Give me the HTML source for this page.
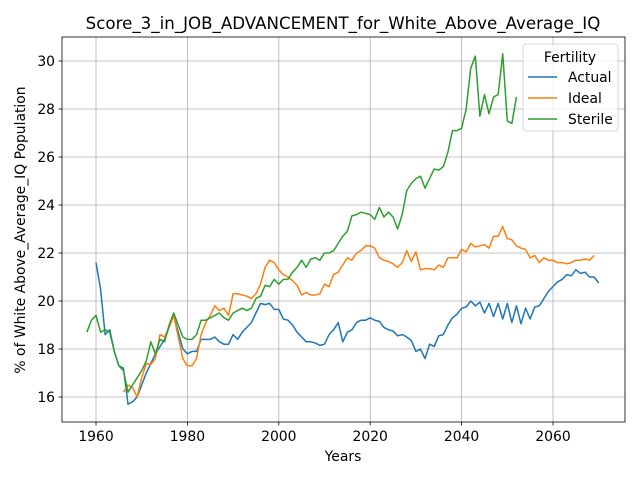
<!DOCTYPE html>
<html><head><meta charset="utf-8"><style>
body{margin:0;background:#fff;}
svg text{font-family:"DejaVu Sans","Liberation Sans",sans-serif;}
</style></head><body>
<svg id="chart" width="640" height="480" xmlns="http://www.w3.org/2000/svg"></svg>
<script>
const actualStart = 1960;
const actualValues = [21.6,20.5,18.6,18.8,17.9,17.3,17.2,15.7,15.8,16.0,16.5,17.0,17.4,17.8,18.1,18.4,18.9,19.4,18.7,18.0,17.8,17.9,17.9,18.4,18.4,18.4,18.5,18.3,18.2,18.2,18.6,18.4,18.7,18.9,19.1,19.5,19.9,19.85,19.9,19.65,19.65,19.25,19.2,19.0,18.7,18.5,18.3,18.3,18.25,18.15,18.2,18.6,18.8,19.1,18.3,18.7,18.8,19.1,19.2,19.2,19.3,19.2,19.15,18.9,18.8,18.75,18.55,18.6,18.5,18.35,17.9,18.0,17.6,18.2,18.1,18.55,18.6,19.0,19.3,19.45,19.7,19.75,20.0,19.8,19.95,19.5,19.9,19.35,19.9,19.25,19.9,19.1,19.8,19.05,19.7,19.25,19.75,19.8,20.1,20.4,20.6,20.8,20.9,21.1,21.05,21.3,21.15,21.2,21.0,21.0,20.75];
const idealStart = 1966;
const idealValues = [16.2,16.5,16.4,16.0,16.8,17.4,17.35,17.6,18.6,18.5,18.9,19.4,18.5,17.6,17.3,17.3,17.6,18.6,19.1,19.4,19.8,19.6,19.7,19.4,20.3,20.3,20.25,20.2,20.1,20.3,20.7,21.4,21.7,21.6,21.3,21.1,21.0,20.85,20.65,20.25,20.35,20.25,20.25,20.3,20.7,20.6,21.1,21.2,21.5,21.8,21.7,22.0,22.1,22.3,22.3,22.2,21.8,21.7,21.65,21.55,21.4,21.6,22.1,21.65,22.05,21.3,21.35,21.35,21.3,21.5,21.4,21.8,21.8,21.8,22.15,22.05,22.4,22.25,22.3,22.35,22.2,22.7,22.7,23.1,22.6,22.55,22.3,22.2,22.15,21.8,21.9,21.6,21.8,21.7,21.7,21.6,21.6,21.55,21.6,21.7,21.7,21.75,21.7,21.9];
const sterileStart = 1958;
const sterileValues = [18.7,19.2,19.4,18.7,18.8,18.7,17.9,17.3,17.1,16.2,16.5,16.8,17.1,17.5,18.3,17.8,18.4,18.3,19.0,19.5,19.0,18.5,18.4,18.4,18.6,19.2,19.2,19.3,19.4,19.5,19.3,19.2,19.5,19.6,19.7,19.6,19.7,20.1,20.2,20.65,20.6,20.9,20.7,20.9,20.9,21.2,21.4,21.7,21.4,21.75,21.8,21.7,22.0,22.0,22.1,22.4,22.7,22.9,23.55,23.6,23.7,23.65,23.6,23.4,23.9,23.5,23.7,23.5,23.0,23.6,24.6,24.9,25.1,25.2,24.7,25.1,25.5,25.45,25.6,26.2,27.1,27.1,27.2,28.0,29.7,30.2,27.7,28.6,27.8,28.5,28.6,30.3,27.5,27.4,28.5];
const xTicks = [1960,1980,2000,2020,2040,2060];
const yTicks = [16,18,20,22,24,26,28,30];

const L=62,R=625,T=37,B=422;
function xs(y){return 96+(y-1960)*(553-96)/100;}
function ys(v){return 61+(30-v)*(397-61)/14;}
const svg=document.getElementById('chart');
const NS='http://www.w3.org/2000/svg';
function mk(tag,attrs,parent){const e=document.createElementNS(NS,tag);for(const k in attrs)e.setAttribute(k,attrs[k]);(parent||svg).appendChild(e);return e;}

const bg=mk('rect',{x:L,y:T,width:R-L,height:B-T,fill:'#fff'});


xTicks.forEach(t=>{const x=xs(t);
 const g=mk('line',{x1:x,x2:x,y1:T,y2:B,stroke:'#b0b0b0','stroke-width':0.8});
 
 
 mk('line',{x1:x,x2:x,y1:B,y2:B+3.5,stroke:'#000','stroke-width':0.8});
 const tx=mk('text',{x:x,y:B+19,'font-size':13.9,'text-anchor':'middle'});tx.textContent=t;
 
 
});
yTicks.forEach(t=>{const y=ys(t);
 const g=mk('line',{x1:L,x2:R,y1:y,y2:y,stroke:'#b0b0b0','stroke-width':0.8});
 
 
 mk('line',{x1:L-3.5,x2:L,y1:y,y2:y,stroke:'#000','stroke-width':0.8});
 const tx=mk('text',{x:L-7,y:y+5,'font-size':13.9,'text-anchor':'end'});tx.textContent=t;
 
 
});
function series(start,vals,color,name){
 const pts=vals.map((v,i)=>xs(start+i).toFixed(2)+','+ys(v).toFixed(2)).join(' ');
 const p=mk('polyline',{points:pts,fill:'none',stroke:color,'stroke-width':1.5,'stroke-linejoin':'round'});
 
 
}
series(actualStart,actualValues,'#1f77b4','actual-line');
series(idealStart,idealValues,'#ff7f0e','ideal-line');
series(sterileStart,sterileValues,'#2ca02c','sterile-line');
const fr=mk('rect',{x:L,y:T,width:R-L,height:B-T,fill:'none',stroke:'#000','stroke-width':0.8});


</script>
<svg style="position:absolute;left:0;top:0" width="640" height="480" xmlns="http://www.w3.org/2000/svg">
<text x="343" y="29" font-size="16.67" text-anchor="middle" font-family="DejaVu Sans, Liberation Sans, sans-serif">Score_3_in_JOB_ADVANCEMENT_for_White_Above_Average_IQ</text>
<text x="343" y="461" font-size="13.9" text-anchor="middle" font-family="DejaVu Sans, Liberation Sans, sans-serif">Years</text>
<text transform="translate(25,230) rotate(-90)" font-size="13.9" text-anchor="middle" font-family="DejaVu Sans, Liberation Sans, sans-serif">% of White Above_Average_IQ Population</text>
<g font-family="DejaVu Sans, Liberation Sans, sans-serif">
<rect x="523" y="44" width="95" height="87" rx="3" fill="#fff" fill-opacity="0.8" stroke="#ccc" stroke-width="0.8"/>
<text x="570" y="62" font-size="13.9" text-anchor="middle">Fertility</text>
<g><line x1="528" x2="557" y1="77" y2="77" stroke="#1f77b4" stroke-width="1.5"/><text x="568" y="82" font-size="13.9">Actual</text></g>
<g><line x1="528" x2="557" y1="98" y2="98" stroke="#ff7f0e" stroke-width="1.5"/><text x="568" y="103" font-size="13.9">Ideal</text></g>
<g><line x1="528" x2="557" y1="119" y2="119" stroke="#2ca02c" stroke-width="1.5"/><text x="568" y="124" font-size="13.9">Sterile</text></g>
</g>
</svg>
</body></html>
